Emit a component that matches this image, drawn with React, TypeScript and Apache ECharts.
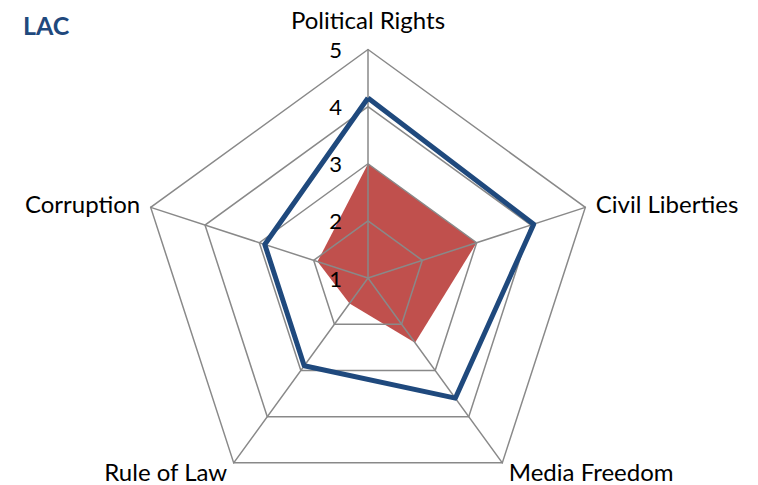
import React, { useEffect, useRef } from 'react';
import * as echarts from 'echarts';

// Indicators listed in ECharts' counter-clockwise order starting at the top
const indicators = ['Political Rights', 'Corruption', 'Rule of Law', 'Media Freedom', 'Civil Liberties'];
const lacLine = [4.15, 2.9, 2.9, 3.6, 4.05];
const lacArea = [3.0, 1.93, 1.55, 2.4, 3.0];
const scaleMin = 1;
const scaleMax = 5;
const titleText = 'LAC';

export default function App() {
  const ref = useRef<HTMLDivElement>(null);
  useEffect(() => {
    if (!ref.current) return;
    const chart = echarts.init(ref.current, null, { renderer: 'svg' });
    const font = 'Lato, "Open Sans", sans-serif';
    chart.setOption({
      animation: false,
      backgroundColor: '#ffffff',
      title: {
        text: titleText,
        left: 18,
        top: 7,
        textStyle: { fontFamily: font, fontWeight: 'bold', fontSize: 25, color: '#1F497D' },
      },
      radar: {
        center: [368, 278],
        radius: 228.5,
        startAngle: 90,
        shape: 'polygon',
        splitNumber: 4,
        nameGap: 11,
        z: 2,
        axisName: { color: '#000', fontFamily: font, fontSize: 24 },
        axisLine: { lineStyle: { color: '#898989', width: 1.5 } },
        splitLine: { lineStyle: { color: '#898989', width: 1.5 } },
        splitArea: { show: false },
        axisTick: { show: false },
        axisLabel: { show: false },
        indicator: indicators.map((name, i) => ({
          name,
          min: scaleMin,
          max: scaleMax,
          ...(i === 0
            ? {
                nameGap: 18,
                axisLabel: { show: true, color: '#000', fontFamily: font, fontSize: 22, margin: 26 },
              }
            : {}),
        })),
      },
      series: [
        {
          type: 'radar',
          z: 1,
          symbol: 'none',
          silent: true,
          lineStyle: { width: 0, opacity: 0 },
          areaStyle: { color: '#C0504D', opacity: 1 },
          data: [{ value: lacArea, name: 'area' }],
        },
        {
          type: 'radar',
          z: 3,
          symbol: 'none',
          silent: true,
          lineStyle: { color: '#1F497D', width: 5 },
          data: [{ value: lacLine, name: 'line' }],
        },
      ],
    });
    return () => chart.dispose();
  }, []);
  return (
    <div
      ref={ref}
      style={{ position: 'fixed', left: 0, top: 0, width: 758, height: 485, background: '#fff' }}
    />
  );
}
